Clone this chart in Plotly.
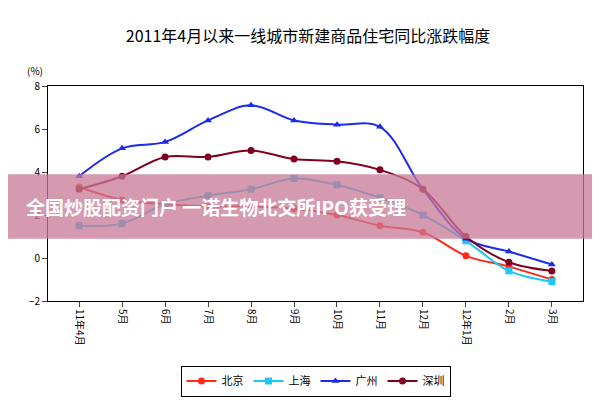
import plotly.graph_objects as go

months = ["11年4月", "5月", "6月", "7月", "8月", "9月", "10月", "11月", "12月", "12年1月", "2月", "3月"]
beijing = [3.3, 2.7, 2.5, 2.4, 2.4, 2.3, 2.0, 1.5, 1.2, 0.1, -0.4, -1.0]
shanghai = [1.5, 1.6, 2.5, 2.9, 3.2, 3.7, 3.4, 2.8, 2.0, 0.8, -0.6, -1.1]
guangzhou = [3.8, 5.1, 5.4, 6.4, 7.1, 6.4, 6.2, 6.1, 3.2, 0.9, 0.3, -0.3]
shenzhen = [3.2, 3.8, 4.7, 4.7, 5.0, 4.6, 4.5, 4.1, 3.2, 1.0, -0.2, -0.6]

series = [
    ("北京", beijing, "#ff2a1a", "circle"),
    ("上海", shanghai, "#1ec8f0", "square"),
    ("广州", guangzhou, "#1a2aee", "triangle-up"),
    ("深圳", shenzhen, "#800020", "circle"),
]

fig = go.Figure()
for name, vals, color, sym in series:
    fig.add_trace(go.Scatter(x=months, y=vals, name=name, mode="lines+markers",
                             line=dict(color=color, width=2, shape="spline"),
                             marker=dict(color=color, symbol=sym, size=7)))

fig.update_layout(
    width=600, height=400,
    paper_bgcolor="white", plot_bgcolor="white",
    font=dict(family="Noto Sans CJK SC", size=10, color="black"),
    title=dict(text="2011年4月以来一线城市新建商品住宅同比涨跌幅度", x=0.5, y=0.93,
               yanchor="middle", font=dict(size=16)),
    margin=dict(l=40, r=25, t=78, b=101),
    legend=dict(orientation="h", x=0.5, xanchor="center", y=-0.3, yanchor="top",
                bordercolor="black", borderwidth=1, font=dict(size=11)),
    xaxis=dict(tickangle=90, showline=True, linecolor="black", mirror=True,
               ticks="outside", showgrid=False),
    yaxis=dict(range=[-2, 8], dtick=2, showline=True, linecolor="black", mirror=True,
               ticks="outside", showgrid=False, zeroline=False),
)
fig.add_annotation(text="(%)", xref="paper", yref="paper", x=-0.005, y=1.03,
                   showarrow=False, xanchor="right", yanchor="bottom", font=dict(size=10))
fig.add_shape(type="rect", xref="paper", yref="paper", x0=-0.2, x1=1.2, y0=0.29, y1=0.59,
              fillcolor="rgba(200,120,150,0.75)", line_width=0, layer="above")
fig.add_annotation(text="<b>全国炒股配资门户 一诺生物北交所IPO获受理</b>", xref="paper", yref="paper",
                   x=-0.045, y=0.44, xanchor="left", showarrow=False,
                   font=dict(size=19, color="white"))

fig.write_html("out.html")
